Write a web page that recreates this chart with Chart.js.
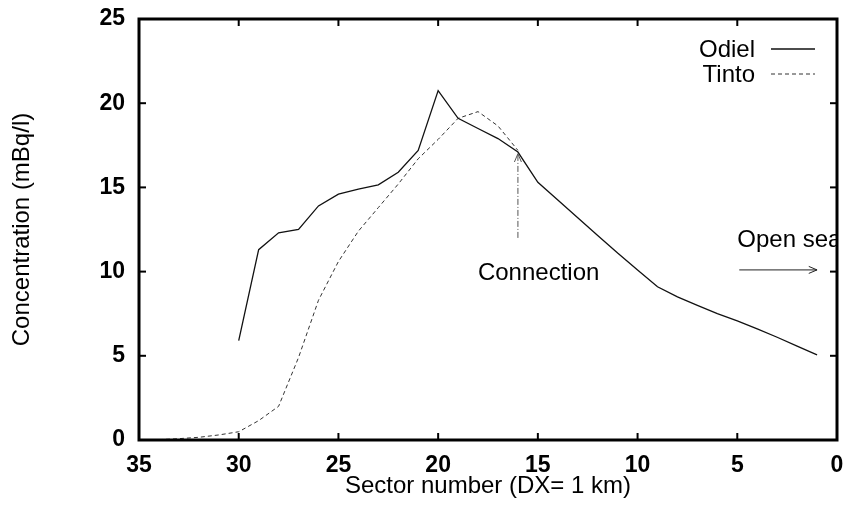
<!DOCTYPE html>
<html><head><meta charset="utf-8">
<script src="https://cdn.jsdelivr.net/npm/chart.js@4/dist/chart.umd.min.js"></script>
<style>html,body{margin:0;padding:0;background:#fff}#wrap{width:849px;height:505px;position:relative}</style>
</head><body><div id="wrap"><canvas id="c"></canvas></div>
<script>
// ---- data ----
const odielSectors = [30,29,28,27,26,25,24,23,22,21,20,19,18,17,16,15,14,13,12,11,10,9,8,7,6,5,4,3,2,1];
const odielValues  = [5.9,11.3,12.3,12.5,13.9,14.6,14.9,15.15,15.9,17.2,20.75,19.1,18.5,17.9,17.1,15.3,14.25,13.2,12.15,11.1,10.1,9.1,8.5,8.0,7.5,7.08,6.6,6.1,5.58,5.05];
const tintoSectors = [34,33,32,31,30,29,28,27,26,25,24,23,22,21,20,19,18,17,16];
const tintoValues  = [0.02,0.08,0.16,0.3,0.49,1.15,2.0,4.9,8.3,10.6,12.4,13.8,15.2,16.7,17.85,19.1,19.5,18.65,17.2];
const seriesNames = ['Odiel','Tinto'];
const xTickValues = [35,30,25,20,15,10,5,0];
const yTickValues = [0,5,10,15,20,25];
const xTitle = 'Sector number (DX= 1 km)';
const yTitle = 'Concentration (mBq/l)';
const connectionLabel = 'Connection';
const connectionSector = 16;
const connectionFrom = 12.0, connectionTo = 17.0;
const openSeaLabel = 'Open sea';
const openSeaFrom = 4.9, openSeaTo = 1.0, openSeaLevel = 10.1;

const FONT = "'Liberation Sans', Arial, Helvetica, sans-serif";

function pts(xs, ys){ return xs.map((x,i)=>({x:x, y:ys[i]})); }

function arrowHead(ctx, x1, y1, x2, y2, size){
  const a = Math.atan2(y2-y1, x2-x1);
  ctx.beginPath();
  ctx.moveTo(x2 - size*Math.cos(a-0.4), y2 - size*Math.sin(a-0.4));
  ctx.lineTo(x2, y2);
  ctx.lineTo(x2 - size*Math.cos(a+0.4), y2 - size*Math.sin(a+0.4));
  ctx.stroke();
}

const framePlugin = {
  id: 'frame',
  afterDatasetsDraw(chart){
    const ctx = chart.ctx, a = chart.chartArea;
    const xs = chart.scales.x, ys = chart.scales.y;
    ctx.save();
    // inward ticks on all four sides
    ctx.strokeStyle = '#000'; ctx.lineWidth = 2; ctx.setLineDash([]);
    xTickValues.forEach(v=>{
      const px = xs.getPixelForValue(v);
      ctx.beginPath(); ctx.moveTo(px, a.bottom); ctx.lineTo(px, a.bottom-7); ctx.stroke();
      ctx.beginPath(); ctx.moveTo(px, a.top); ctx.lineTo(px, a.top+7); ctx.stroke();
    });
    yTickValues.forEach(v=>{
      const py = ys.getPixelForValue(v);
      ctx.beginPath(); ctx.moveTo(a.left, py); ctx.lineTo(a.left+7, py); ctx.stroke();
      ctx.beginPath(); ctx.moveTo(a.right, py); ctx.lineTo(a.right-7, py); ctx.stroke();
    });
    // connection arrow
    const cx = xs.getPixelForValue(connectionSector);
    const cy1 = ys.getPixelForValue(connectionFrom), cy2 = ys.getPixelForValue(connectionTo);
    ctx.strokeStyle = '#555'; ctx.lineWidth = 1; ctx.setLineDash([6,2,1,2]);
    ctx.beginPath(); ctx.moveTo(cx, cy1); ctx.lineTo(cx, cy2); ctx.stroke();
    ctx.setLineDash([]);
    arrowHead(ctx, cx, cy1, cx, cy2, 9);
    ctx.fillStyle = '#000'; ctx.font = '24px ' + FONT; ctx.textAlign = 'left'; ctx.textBaseline = 'alphabetic';
    ctx.fillText(connectionLabel, cx - 40, cy1 + 42);
    // open sea arrow
    const ox1 = xs.getPixelForValue(openSeaFrom), ox2 = xs.getPixelForValue(openSeaTo), oy = ys.getPixelForValue(openSeaLevel);
    ctx.strokeStyle = '#222'; ctx.lineWidth = 1;
    ctx.beginPath(); ctx.moveTo(ox1, oy); ctx.lineTo(ox2, oy); ctx.stroke();
    arrowHead(ctx, ox1, oy, ox2, oy, 9);
    ctx.save();
    ctx.beginPath(); ctx.rect(0, 0, a.right, chart.height); ctx.clip();
    ctx.fillText(openSeaLabel, ox1 - 2, oy - 23);
    ctx.restore();
    // legend (text then line sample)
    ctx.textAlign = 'right';
    chart.data.datasets.forEach((ds, i)=>{
      const ty = a.top + 38 + i*25;
      ctx.fillStyle = '#000';
      ctx.fillText(ds.label, a.right - 82, ty);
      ctx.strokeStyle = ds.borderColor; ctx.lineWidth = ds.borderWidth;
      ctx.setLineDash(ds.borderDash || []);
      ctx.beginPath(); ctx.moveTo(a.right - 66, ty - 8); ctx.lineTo(a.right - 22, ty - 8); ctx.stroke();
    });
    ctx.setLineDash([]);
    // frame
    ctx.strokeStyle = '#000'; ctx.lineWidth = 3;
    ctx.strokeRect(a.left, a.top, a.right - a.left, a.bottom - a.top);
    ctx.restore();
  }
};

new Chart(document.getElementById('c'), {
  type: 'line',
  data: {
    datasets: [
      { label: seriesNames[0], data: pts(odielSectors, odielValues), borderColor: '#111', borderWidth: 1.3, pointRadius: 0, fill: false, tension: 0 },
      { label: seriesNames[1], data: pts(tintoSectors, tintoValues), borderColor: '#333', borderWidth: 1, borderDash: [4,3], pointRadius: 0, fill: false, tension: 0 }
    ]
  },
  options: {
    responsive: true, maintainAspectRatio: false, animation: false,
    layout: { padding: { top: 19, right: 12, left: 0, bottom: 0 } },
    plugins: { legend: { display: false }, tooltip: { enabled: false } },
    scales: {
      x: {
        type: 'linear', reverse: true, min: 0, max: 35,
        afterBuildTicks(s){ s.ticks = xTickValues.map(v=>({value:v})); },
        afterFit(s){ s.height = 65; s.paddingLeft = 0; s.paddingRight = 0; s.paddingTop = 0; s.paddingBottom = 0; },
        grid: { display: false, drawTicks: false },
        border: { display: false },
        ticks: { color: '#000', padding: 12, font: { family: FONT, size: 23, weight: 'bold' }, maxRotation: 0, autoSkip: false },
        title: { display: true, text: xTitle, color: '#000', font: { family: FONT, size: 24 }, padding: { top: 0, bottom: 4 } }
      },
      y: {
        type: 'linear', min: 0, max: 25,
        afterBuildTicks(s){ s.ticks = yTickValues.map(v=>({value:v})); },
        afterFit(s){ s.width = 139; s.paddingLeft = 0; s.paddingRight = 0; s.paddingTop = 0; s.paddingBottom = 0; },
        grid: { display: false, drawTicks: false },
        border: { display: false },
        ticks: { color: '#000', padding: 14, font: { family: FONT, size: 23, weight: 'bold' } },
        title: { display: true, text: yTitle, color: '#000', font: { family: FONT, size: 24 }, padding: { top: 8, bottom: 0 } }
      }
    }
  },
  plugins: [framePlugin]
});
</script></body></html>
